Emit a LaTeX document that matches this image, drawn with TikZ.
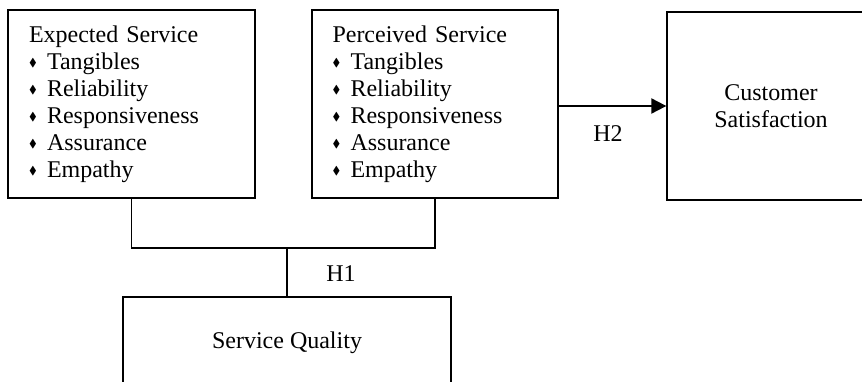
\documentclass[tikz,border=0pt]{standalone}
\usepackage{amssymb}
\usepackage{fontspec}
\setmainfont{Liberation Serif}
\usepackage{tikz}
\usetikzlibrary{arrows.meta,positioning}

\newcommand{\bul}{\makebox[18pt][l]{\raisebox{3pt}{\fontsize{11.5}{11.5}\selectfont$\blacklozenge$}}}

\begin{document}
\begin{tikzpicture}[x=1pt, y=-1pt]
    \tikzstyle{listbox} = [rectangle, draw, line width=1.3pt, text width=205pt, align=left, inner xsep=0pt, minimum width=247pt, minimum height=188pt, font=\fontsize{24}{27}\selectfont]
    \tikzstyle{plainbox} = [rectangle, draw, line width=1.3pt, align=center, font=\fontsize{24}{27}\selectfont]
    \tikzstyle{link} = [line width=1.3pt]
    \tikzstyle{arrow} = [line width=2pt, -{Triangle[length=15pt,width=15pt]}]
    \tikzstyle{hyp} = [font=\fontsize{24}{27}\selectfont]

    \useasboundingbox (0,0) rectangle (862,382);
    \clip (0,0) rectangle (862,382);

    % Expected service
    \node [listbox] (expected) at (131.5,104) {Expected Service\\\bul Tangibles\\\bul Reliability\\\bul Responsiveness\\\bul Assurance\\\bul Empathy};

    % Perceived service
    \node [listbox, minimum width=246pt] (perceived) at (435,104) {Perceived Service\\\bul Tangibles\\\bul Reliability\\\bul Responsiveness\\\bul Assurance\\\bul Empathy};

    % Customer satisfaction
    \node [plainbox, minimum width=208pt, minimum height=188pt] (satisfaction) at (771,106) {Customer\\Satisfaction};

    % Service quality
    \node [plainbox, minimum width=328pt, minimum height=92pt] (quality) at (287,343) {Service Quality};

    % Joining lines
    \coordinate (join) at (287,248);
    \draw [link] (expected.south) |- (join) -| (perceived.south);
    \draw [link] (join) -- (quality.north);
    \node [hyp] (h1) at (341,274) {H1};

    % Arrow
    \draw [arrow] (perceived.east |- satisfaction.west) -- (satisfaction.west);
    \node [hyp] (h2) at (608,134) {H2};
\end{tikzpicture}
\end{document}
